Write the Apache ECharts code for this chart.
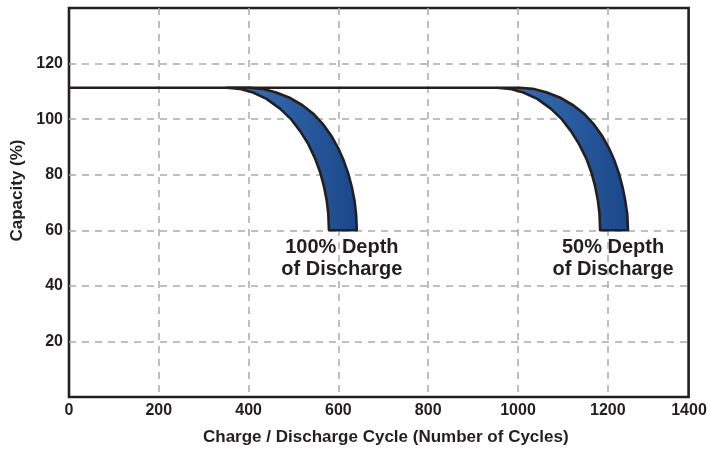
<!DOCTYPE html>
<html>
<head>
<meta charset="utf-8">
<script src="https://cdn.jsdelivr.net/npm/echarts@6/dist/echarts.min.js"></script>
<style>
  html, body { margin: 0; padding: 0; background: #ffffff; }
  #chart { width: 708px; height: 451px; }
</style>
</head>
<body>
<div id="chart"></div>
<script>
// Cycle-life curves: capacity (%) versus number of charge/discharge cycles
const xTicks = [0, 200, 400, 600, 800, 1000, 1200, 1400];
const yTicks = [20, 40, 60, 80, 100, 120];

// Initial capacity plateau, running to where the 50% DoD band begins
const plateau = [[0, 111.3], [953, 111.3]];

// 100% depth of discharge: faster-fading (lower) edge and slower (upper) edge
const dod100Lower = [[352, 111.3], [380, 110.9], [410, 109.6], [440, 107.3], [470, 103.8], [495, 99.9],
  [515, 95.7], [533, 91.0], [548, 85.9], [560, 80.6], [568, 75.7], [574, 70.7], [577.5, 66.0], [579, 60]];
const dod100Upper = [[352, 111.3], [400, 111.3], [430, 110.9], [460, 109.7], [490, 107.8], [520, 105.0],
  [545, 101.8], [565, 98.3], [585, 93.8], [600, 89.4], [612, 85.0], [622, 80.4], [630, 75.5],
  [636, 70.6], [639.5, 65.6], [641, 60]];

// 50% depth of discharge
const dod50Lower = [[953, 111.3], [982, 110.9], [1012, 109.6], [1043, 107.3], [1073, 103.8], [1098, 99.9],
  [1118, 95.7], [1136, 91.0], [1152, 85.9], [1164, 80.6], [1172, 75.7], [1178, 70.7], [1181.5, 66.0], [1183, 60]];
const dod50Upper = [[953, 111.3], [1003, 111.3], [1033, 110.9], [1063, 109.7], [1093, 107.8], [1123, 105.0],
  [1148, 101.8], [1168, 98.3], [1188, 93.8], [1203, 89.4], [1215, 85.0], [1225, 80.4], [1233, 75.5],
  [1239, 70.6], [1243.5, 65.6], [1245, 60]];

const bands = [
  { name: '100% Depth\nof Discharge', lower: dod100Lower, upper: dod100Upper },
  { name: '50% Depth\nof Discharge', lower: dod50Lower, upper: dod50Upper }
];

const xName = 'Charge / Discharge Cycle (Number of Cycles)';
const yName = 'Capacity (%)';

const INK = '#231f20';
const FONT = '"Liberation Sans", Arial, Helvetica, sans-serif';
const TICK_SIZE = 16;
const X_END = 1380;   // the frame closes just short of the last tick

const chart = echarts.init(document.getElementById('chart'), null, { renderer: 'canvas' });

function renderBand(params, api) {
  const band = bands[api.value(0)];
  // outline: upper edge down to its foot, across the bottom, then back up the lower edge
  const pts = [];
  band.upper.forEach(p => pts.push(api.coord(p)));
  for (let i = band.lower.length - 1; i >= 0; i--) pts.push(api.coord(band.lower[i]));
  const footL = api.coord(band.lower[band.lower.length - 1]);
  const footR = api.coord(band.upper[band.upper.length - 1]);
  return {
    type: 'group',
    children: [
      {
        type: 'polygon',
        shape: { points: pts },
        style: {
          fill: new echarts.graphic.LinearGradient(0, 0, 1, 0, [
            { offset: 0, color: '#3b74bb' },
            { offset: 1, color: '#1a4788' }
          ]),
          stroke: INK,
          lineWidth: 2.6,
          lineJoin: 'round'
        }
      },
      {
        type: 'text',
        x: (footL[0] + footR[0]) / 2 - 1,
        y: footL[1] + 6,
        style: {
          text: band.name,
          fill: INK,
          font: 'bold 20px ' + FONT,
          align: 'center',
          verticalAlign: 'top',
          lineHeight: 22
        }
      }
    ]
  };
}

chart.setOption({
  animation: false,
  backgroundColor: '#ffffff',
  grid: {
    left: 69, right: 19.4, top: 8, bottom: 54,
    show: true,
    borderColor: INK,
    borderWidth: 2.6,
    backgroundColor: 'transparent'
  },
  xAxis: {
    type: 'value',
    min: xTicks[0],
    max: X_END,
    interval: xTicks[1] - xTicks[0],
    name: xName,
    nameLocation: 'middle',
    nameGap: 32,
    nameTextStyle: { color: INK, fontFamily: FONT, fontWeight: 'bold', fontSize: 17, padding: [0, 0, 0, 14] },
    axisLine: { show: false },
    axisTick: { show: false },
    axisLabel: {
      color: INK, fontFamily: FONT, fontWeight: 'bold', fontSize: TICK_SIZE, margin: 6,
      formatter: v => (xTicks.indexOf(v) >= 0 ? String(v) : '')
    },
    splitLine: {
      show: true, showMinLine: false, showMaxLine: false,
      lineStyle: { color: '#ababab', width: 1.5, type: [7, 6] }
    }
  },
  yAxis: {
    type: 'value',
    min: 0,
    max: 140,
    interval: 20,
    name: yName,
    nameLocation: 'middle',
    nameGap: 43,
    nameTextStyle: { color: INK, fontFamily: FONT, fontWeight: 'bold', fontSize: 17, padding: [0, 0, 0, 24] },
    axisLine: { show: false },
    axisTick: { show: false },
    axisLabel: {
      color: INK, fontFamily: FONT, fontWeight: 'bold', fontSize: TICK_SIZE, margin: 6,
      showMinLabel: false, showMaxLabel: false,
      formatter: v => (yTicks.indexOf(v) >= 0 ? String(v) : '')
    },
    splitLine: {
      show: true, showMinLine: false, showMaxLine: false,
      lineStyle: { color: '#ababab', width: 1.5, type: [7, 6] }
    }
  },
  series: [
    {
      type: 'line',
      data: plateau,
      symbol: 'none',
      silent: true,
      lineStyle: { color: INK, width: 2.6 },
      z: 3
    },
    {
      type: 'custom',
      data: bands.map((b, i) => [i]),
      renderItem: renderBand,
      silent: true,
      clip: false,
      z: 4
    }
  ]
});

// last tick label: centred near its spot on the scale, kept inside the canvas edge
const lastTick = xTicks[xTicks.length - 1];
const lastPos = chart.convertToPixel({ xAxisIndex: 0 }, lastTick);
const baseY = chart.convertToPixel({ yAxisIndex: 0 }, 0);
chart.setOption({
  graphic: [{
    type: 'text',
    x: Math.min(lastPos, chart.getWidth() - 19),
    y: baseY + 6,
    style: {
      text: String(lastTick),
      fill: INK,
      font: 'bold ' + TICK_SIZE + 'px ' + FONT,
      align: 'center',
      verticalAlign: 'top'
    }
  }]
});
</script>
</body>
</html>
